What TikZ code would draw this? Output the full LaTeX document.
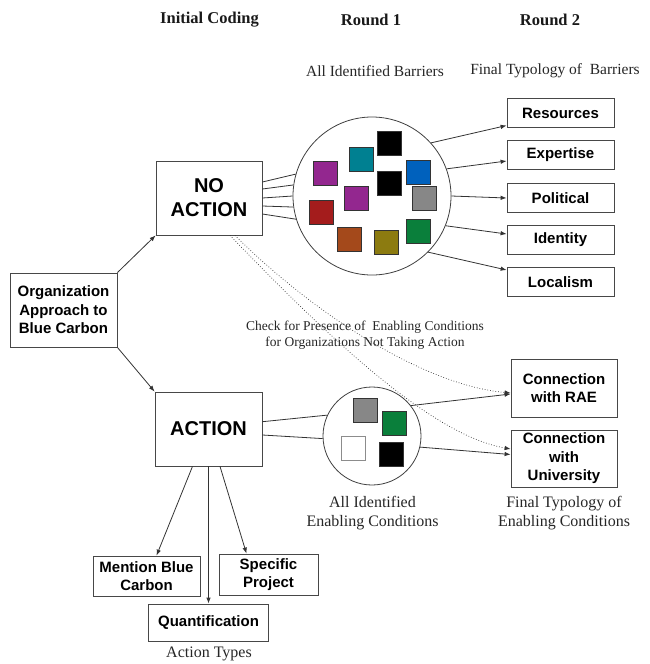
\documentclass[tikz,border=0pt]{standalone}
\usepackage{fontspec}
\setmainfont{Liberation Serif}
\newfontfamily\boxfont{Liberation Sans}
\usetikzlibrary{arrows.meta,calc}
\definecolor{sqpurple}{HTML}{93278F}
\definecolor{sqteal}{HTML}{008091}
\definecolor{sqblue}{HTML}{0061BD}
\definecolor{sqgray}{HTML}{878787}
\definecolor{sqred}{HTML}{A41C1C}
\definecolor{sqbrown}{HTML}{A4491B}
\definecolor{sqolive}{HTML}{8C7B10}
\definecolor{sqgreen}{HTML}{0A7F3B}
\begin{document}
\begin{tikzpicture}[x=1pt,y=-1pt,
  >={Latex[length=6pt,width=4.5pt]},
  box/.style={draw=black!72, line width=0.8pt, fill=white, inner sep=0pt, align=center,
    font=\boxfont\bfseries\fontsize{15}{18.5}\selectfont},
  bigbox/.style={box, font=\boxfont\bfseries\fontsize{20}{24}\selectfont},
  sq/.style={draw=black!80, line width=0.8pt, minimum size=24pt, inner sep=0pt},
  ring/.style={circle, draw=black!75, line width=0.8pt, inner sep=0pt},
  conn/.style={draw=black!80, line width=0.8pt},
  dotconn/.style={draw=black!80, line width=0.7pt, dotted},
  lbl/.style={font=\fontsize{15.5}{18}\selectfont, align=center, text=black!85},
  blbl/.style={font=\fontsize{16}{19}\selectfont, align=center, text=black!85},
  hdr/.style={font=\bfseries\fontsize{16.5}{20}\selectfont, text=black!90}
]
\useasboundingbox (0,0) rectangle (649,664);

% headers
\node[hdr] (h0) at (209.5,20) {Initial Coding};
\node[hdr] (h1) at (371,20) {Round 1};
\node[hdr] (h2) at (550,20) {Round 2};
\node[lbl] (l1) at (375,71) {All Identified Barriers};
\node[lbl] (l2) at (555,71) {Final Typology of\ \ Barriers};

% main boxes
\node[box, minimum width=107pt, minimum height=74pt] (org) at (63.5,310) {Organization\\Approach to\\Blue Carbon};
\node[bigbox, minimum width=106pt, minimum height=74pt] (noact) at (209,198) {NO\\ACTION};
\node[bigbox, minimum width=107pt, minimum height=74pt] (act) at (208.5,429) {ACTION};

% barrier boxes
\node[box, minimum width=107pt, minimum height=29pt] (res) at (560.5,113) {Resources};
\node[box, minimum width=107pt, minimum height=29pt] (exp) at (560.5,155) {Expertise};
\node[box, minimum width=107pt, minimum height=29pt] (pol) at (560.5,198) {Political};
\node[box, minimum width=107pt, minimum height=29pt] (ide) at (560.5,239.5) {Identity};
\node[box, minimum width=107pt, minimum height=29pt] (loc) at (560.5,282) {Localism};

% enabling condition boxes
\node[box, minimum width=106pt, minimum height=58pt] (rae) at (564,388) {Connection\\with RAE};
\node[box, minimum width=106pt, minimum height=57pt] (uni) at (564,458.5) {Connection\\with\\University};

% action type boxes
\node[box, minimum width=107pt, minimum height=40pt] (ment) at (146.5,576) {Mention Blue\\Carbon};
\node[box, minimum width=99pt, minimum height=41pt] (spec) at (268.5,574.5) {Specific\\Project};
\node[box, minimum width=120pt, minimum height=37pt] (quant) at (208.5,622.5) {Quantification};
\node[blbl] (l5) at (209,654) {Action Types};

% circles
\node[ring, minimum size=158pt] (c1) at (372,196) {};
\node[ring, minimum size=98pt] (c2) at (372,436) {};

% squares in circle 1
\node[sq, fill=black] (s1) at (389.5,143) {};
\node[sq, fill=sqteal] (s2) at (361.5,159) {};
\node[sq, fill=sqpurple] (s3) at (325,173) {};
\node[sq, fill=sqblue] (s4) at (418,172) {};
\node[sq, fill=black] (s5) at (389.5,183) {};
\node[sq, fill=sqpurple] (s6) at (356.5,198) {};
\node[sq, fill=sqgray] (s7) at (424.5,198.5) {};
\node[sq, fill=sqred] (s8) at (321,212) {};
\node[sq, fill=sqbrown] (s9) at (349.5,239.5) {};
\node[sq, fill=sqolive] (s10) at (386.5,242) {};
\node[sq, fill=sqgreen] (s11) at (418,231) {};

% squares in circle 2
\node[sq, fill=sqgray] (e1) at (365,410) {};
\node[sq, fill=sqgreen] (e2) at (394,423) {};
\node[sq, fill=white, draw=black!45] (e3) at (353.5,448) {};
\node[sq, fill=black] (e4) at (391,454.5) {};

% labels
\node[font=\fontsize{13.5}{16.5}\selectfont, align=center, text=black!85] (chk) at (365,335)
  {Check for Presence of\ \ Enabling Conditions\\for Organizations Not Taking Action};
\node[blbl] (l3) at (372.5,513) {All Identified\\Enabling Conditions};
\node[blbl] (l4) at (564,513) {Final Typology of\\Enabling Conditions};

% org arrows
\draw[conn,->] (org.north east) -- (noact.south west);
\draw[conn,->] (org.south east) -- (act.north west);

% no action fan to circle 1
\draw[conn] ([yshift=16pt]noact.east) -- (c1.164);
\draw[conn] ([yshift=9pt]noact.east) -- (c1.172);
\draw[conn] (noact.east) -- (c1.180);
\draw[conn] ([yshift=-8pt]noact.east) -- (c1.188);
\draw[conn] ([yshift=-16pt]noact.east) -- (c1.197);

% circle 1 to barriers
\draw[conn,->] (c1.42) -- ([yshift=-12.5pt]res.west);
\draw[conn,->] (c1.20) -- ([yshift=-6pt]exp.west);
\draw[conn,->] (c1.0) -- (pol.west);
\draw[conn,->] (c1.-22) -- ([yshift=5.5pt]ide.west);
\draw[conn,->] (c1.-45) -- ([yshift=12pt]loc.west);

% action to circle 2
\draw[conn] ([yshift=7.3pt]act.east) -- (c2.155);
\draw[conn] ([yshift=-6pt]act.east) -- (c2.183);

% circle 2 to enabling conditions
\draw[conn,->] (c2.38) -- ([yshift=-6pt]rae.west);
\draw[conn,->] (c2.-13) -- ([yshift=4pt]uni.west);

% dotted check connectors
\draw[dotconn,->] ([xshift=26pt]noact.south) .. controls +(75,75) and +(-89,-8) .. ([yshift=-5pt]rae.west);
\draw[dotconn,->] ([xshift=21pt]noact.south) .. controls +(100,104) and +(-79,-14) .. ([yshift=9.5pt]uni.west);

% action types
\draw[conn,->] ([xshift=-16pt]act.south) -- ([xshift=10pt]ment.north);
\draw[conn,->] (act.south) -- (quant.north);
\draw[conn,->] ([xshift=11.5pt]act.south) -- ([xshift=-22pt]spec.north);
\end{tikzpicture}
\end{document}
